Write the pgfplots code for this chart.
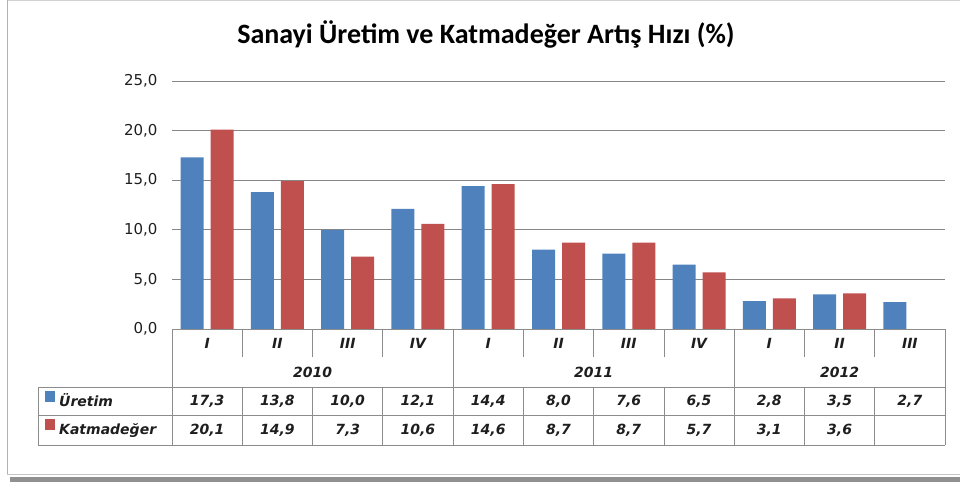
\documentclass[border=0pt]{standalone}
\usepackage{pgfplots}
\pgfplotsset{compat=1.18}
\usepackage{fontspec}
\setmainfont{DejaVu Sans}
\newfontfamily\titlefont{Carlito}
\definecolor{ublue}{HTML}{4F81BD}
\definecolor{kred}{HTML}{C0504D}
\definecolor{gridc}{HTML}{868686}
\definecolor{tabc}{HTML}{8C8C8C}
\definecolor{txt}{HTML}{1E1E1E}
\begin{document}
\begin{tikzpicture}[x=1pt,y=1pt]
\useasboundingbox (0,0) rectangle (960,482);
% frame
\draw[gray!35, line width=0.8pt] (7,481.5) -- (960,481.5);
\draw[gray!60, line width=1pt] (7,482) -- (7,7);
\draw[gray!45, line width=0.8pt] (7,8) -- (960,8);
\fill[gray!75!black!70] (10,0) rectangle (960,5.5);
% title
\node[font=\titlefont\bfseries\fontsize{28}{32}\selectfont, text=black] at (486,448) {Sanayi Üretim ve Katmadeğer Artış Hızı (\%)};
\begin{axis}[
  at={(172pt,153pt)}, anchor=south west,
  scale only axis, width=773pt, height=248pt,
  xmin=-0.5, xmax=10.5, ymin=0, ymax=25,
  ybar=7pt, bar width=23pt,
  xtick=\empty,
  ytick={0,5,10,15,20,25},
  ymajorgrids, grid style={gridc, line width=0.8pt},
  axis line style={draw=none},
  tick style={draw=none},
  yticklabel style={font=\fontsize{15}{17}\selectfont, text=txt, xshift=-11pt},
  yticklabel={\pgfmathprintnumber[fixed,fixed zerofill,precision=1,use comma,assume math mode=true]{\tick}},
  clip=false,
  legend style={at={(-0.1643,-0.2339)}, anchor=north west, draw=none, fill=none,
    font=\fontsize{14}{16}\selectfont\bfseries\itshape, text=txt,
    inner sep=0pt, row sep=0pt,
    nodes={inner xsep=4pt, inner ysep=0pt, text height=19pt, text depth=9.5pt}},
  legend cell align=left,
]
\addplot[fill=ublue, draw=none, legend image code/.code={\fill[ublue] (0pt,-0.5pt) rectangle (10pt,10.5pt);}]
  coordinates {(0,17.3) (1,13.8) (2,10.0) (3,12.1) (4,14.4) (5,8.0) (6,7.6) (7,6.5) (8,2.8) (9,3.5) (10,2.7)};
\addlegendentry{Üretim}
\addplot[fill=kred, draw=none, legend image code/.code={\fill[kred] (0pt,-0.5pt) rectangle (10pt,10.5pt);}]
  coordinates {(0,20.1) (1,14.9) (2,7.3) (3,10.6) (4,14.6) (5,8.7) (6,8.7) (7,5.7) (8,3.1) (9,3.6)};
\addlegendentry{Katmadeğer}
\end{axis}
% data table
\begin{scope}[tabc, line width=0.8pt]
\draw (172,153) -- (945,153);
\foreach \k in {0,4,8,11} \draw ({172+\k*70.2727},153) -- ({172+\k*70.2727},37);
\foreach \k in {1,2,3,5,6,7,9,10} {
  \draw ({172+\k*70.2727},153) -- ({172+\k*70.2727},125);
  \draw ({172+\k*70.2727},95) -- ({172+\k*70.2727},37);
}
\draw (38,95) -- (945,95);
\draw (38,67) -- (945,67);
\draw (38,37) -- (945,37);
\draw (38,95) -- (38,37);
\end{scope}
\begin{scope}[every node/.style={font=\fontsize{14}{16}\selectfont\bfseries\itshape, text=txt}]
\foreach \k/\q in {0/I,1/II,2/III,3/IV,4/I,5/II,6/III,7/IV,8/I,9/II,10/III}
  \node at ({172+(\k+0.5)*70.2727},139) {\q};
\foreach \k/\y in {2/2010,6/2011,9.5/2012}
  \node at ({172+\k*70.2727},110) {\y};
\foreach \k/\v in {0/{17,3},1/{13,8},2/{10,0},3/{12,1},4/{14,4},5/{8,0},6/{7,6},7/{6,5},8/{2,8},9/{3,5},10/{2,7}}
  \node at ({172+(\k+0.5)*70.2727},81) {\v};
\foreach \k/\v in {0/{20,1},1/{14,9},2/{7,3},3/{10,6},4/{14,6},5/{8,7},6/{8,7},7/{5,7},8/{3,1},9/{3,6}}
  \node at ({172+(\k+0.5)*70.2727},52) {\v};
\end{scope}
\end{tikzpicture}
\end{document}
